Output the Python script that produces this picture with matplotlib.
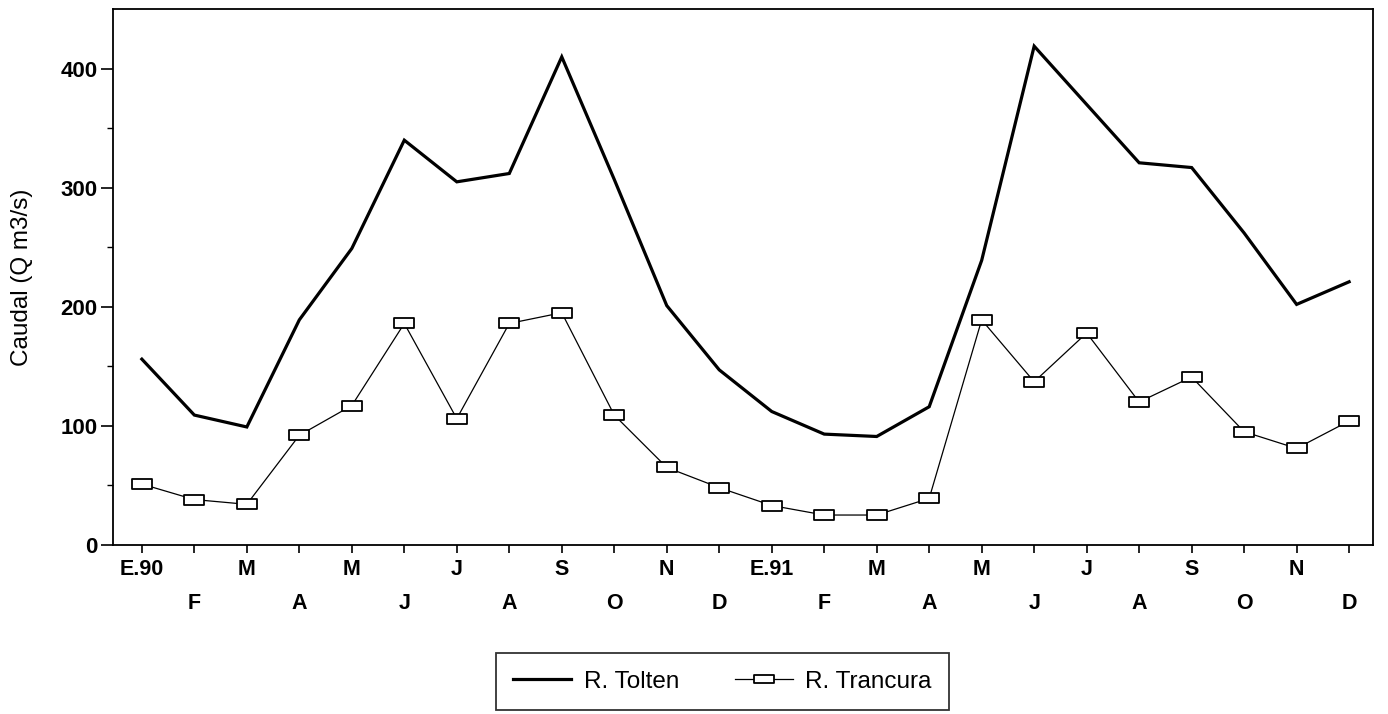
import matplotlib
matplotlib.use("Agg")
import matplotlib.pyplot as plt
from matplotlib.path import Path

months = ["E.90", "F", "M", "A", "M", "J", "J", "A", "S", "O", "N", "D",
          "E.91", "F", "M", "A", "M", "J", "J", "A", "S", "O", "N", "D"]
tolten = [156, 109, 99, 189, 249, 340, 305, 312, 410, 307, 201, 147,
          112, 93, 91, 116, 239, 419, 370, 321, 317, 262, 202, 221]
trancura = [51, 38, 34, 92, 117, 186, 106, 186, 195, 109, 65, 48,
            33, 25, 25, 39, 189, 137, 178, 120, 141, 95, 81, 104]

plt.rcParams['font.family'] = ['Liberation Sans', 'DejaVu Sans']

fig = plt.figure(figsize=(13.88, 7.14), dpi=100)
ax = fig.add_axes([0.0814, 0.237, 0.9076, 0.750])

x = list(range(len(months)))
rect = Path([(-1, -0.45), (1, -0.45), (1, 0.45), (-1, 0.45), (-1, -0.45)],
            [Path.MOVETO, Path.LINETO, Path.LINETO, Path.LINETO, Path.CLOSEPOLY])

ax.plot(x, tolten, color='black', lw=2.3, label='R. Tolten', solid_joinstyle='miter')
ax.plot(x, trancura, color='black', lw=0.9, marker=rect, markersize=15,
        markerfacecolor='white', markeredgecolor='black', markeredgewidth=1.3,
        label='R. Trancura')

ax.set_xlim(-0.55, 23.45)
ax.set_ylim(0, 450)
ax.set_yticks([0, 100, 200, 300, 400])
ax.set_yticks([50, 150, 250, 350], minor=True)
ax.set_xticks(x)
ax.set_xticklabels([m if i % 2 == 0 else "\n" + m for i, m in enumerate(months)],
                   fontsize=15.5, fontweight='bold', linespacing=1.85)
for lab in ax.get_yticklabels():
    lab.set_fontsize(16)
    lab.set_fontweight('bold')
ax.tick_params(axis='y', which='major', direction='out', length=9, width=1.2, pad=2)
ax.tick_params(axis='y', which='minor', direction='out', length=4, width=1.0)
ax.tick_params(axis='x', which='major', direction='out', length=6, width=1.2, pad=4)
for s in ax.spines.values():
    s.set_linewidth(1.3)

ax.set_ylabel("Caudal (Q m3/s)", fontsize=17.5)
ax.yaxis.set_label_coords(-0.0635, 0.5)

leg = fig.legend(loc='center', bbox_to_anchor=(0.5205, 0.0455), ncol=2,
                 frameon=True, fancybox=False, edgecolor='black', fontsize=17.5,
                 handlelength=2.4, handletextpad=0.5, columnspacing=2.3,
                 borderpad=0.7, borderaxespad=0)
leg.get_frame().set_linewidth(1.3)
leg.legend_handles[1].set_markersize(14)

fig.savefig("out.png", dpi=100)
